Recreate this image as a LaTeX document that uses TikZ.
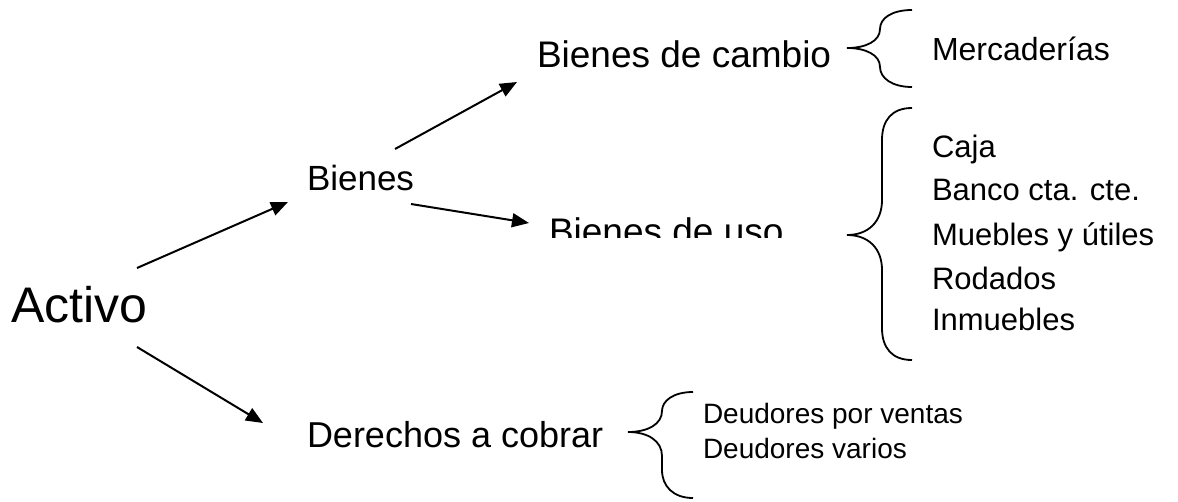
\documentclass[tikz,border=0pt]{standalone}
\usepackage{fontspec}
\setmainfont{Liberation Sans}
\usetikzlibrary{arrows.meta}
\tikzset{
  lbl/.style={anchor=base west, inner sep=0pt, outer sep=0pt},
  arr/.style={line width=2pt, -{Triangle[length=17pt,width=14pt]}},
  brc/.style={line width=1.8pt},
}
\newcommand{\fs}[1]{\fontsize{#1}{#1}\selectfont}
\begin{document}
\begin{tikzpicture}[x=1pt,y=-1pt]
\useasboundingbox (0,0) rectangle (1178,501);
% main texts
\node[lbl, font=\fs{50}] (activo) at (11,322) {Activo};
\node[lbl, font=\fs{35}] (bienes) at (307,190) {Bienes};
\node[lbl, font=\fs{37}] (cambio) at (537,67) {Bienes de cambio};
\begin{scope}
  \clip (520,150) rectangle (840,237);
  \node[lbl, font=\fs{37}] (uso) at (549,244) {Bienes de uso};
\end{scope}
\node[lbl, font=\fs{36}] (derechos) at (307,447) {Derechos a cobrar};
% leaf texts
\node[lbl, font=\fs{32}] (merc) at (932,60) {Mercaderías};
\node[lbl, font=\fs{31}] (caja) at (932,157) {Caja};
\node[lbl, font=\fs{31}] (banco) at (932,200) {Banco cta. cte.};
\node[lbl, font=\fs{31}] (muebles) at (932,245) {Muebles y útiles};
\node[lbl, font=\fs{31}] (rodados) at (932,289) {Rodados};
\node[lbl, font=\fs{31}] (inmuebles) at (932,330) {Inmuebles};
\node[lbl, font=\fs{28}] (dventas) at (703,423) {Deudores por ventas};
\node[lbl, font=\fs{28}] (dvarios) at (703,458) {Deudores varios};
% arrow endpoints
\coordinate (a1s) at (137,268); \coordinate (a1e) at (288,202);
\coordinate (a2s) at (137,347); \coordinate (a2e) at (263,423);
\coordinate (a3s) at (395,149); \coordinate (a3e) at (517,82);
\coordinate (a4s) at (411,204); \coordinate (a4e) at (529,223);
\draw[arr] (a1s) -- (a1e);
\draw[arr] (a2s) -- (a2e);
\draw[arr] (a3s) -- (a3e);
\draw[arr] (a4s) -- (a4e);
% braces
\draw[brc] (912,10) .. controls (892,10) and (880,18) .. (880,29)
  .. controls (880,41) and (866,48) .. (847,48)
  .. controls (866,48) and (880,55) .. (880,67)
  .. controls (880,78) and (892,87) .. (912,87);
\draw[brc] (912,108) .. controls (892,108) and (882,120) .. (882,140)
  -- (882,200) .. controls (882,222) and (868,235) .. (847,235)
  .. controls (868,235) and (882,248) .. (882,270)
  -- (882,328) .. controls (882,348) and (892,360) .. (912,360);
\draw[brc] (693,392) .. controls (673,392) and (662,401) .. (662,411)
  .. controls (662,424) and (648,432) .. (628,432)
  .. controls (648,432) and (662,441) .. (662,456)
  -- (662,470) .. controls (662,486) and (673,498) .. (693,498);
\end{tikzpicture}
\end{document}
